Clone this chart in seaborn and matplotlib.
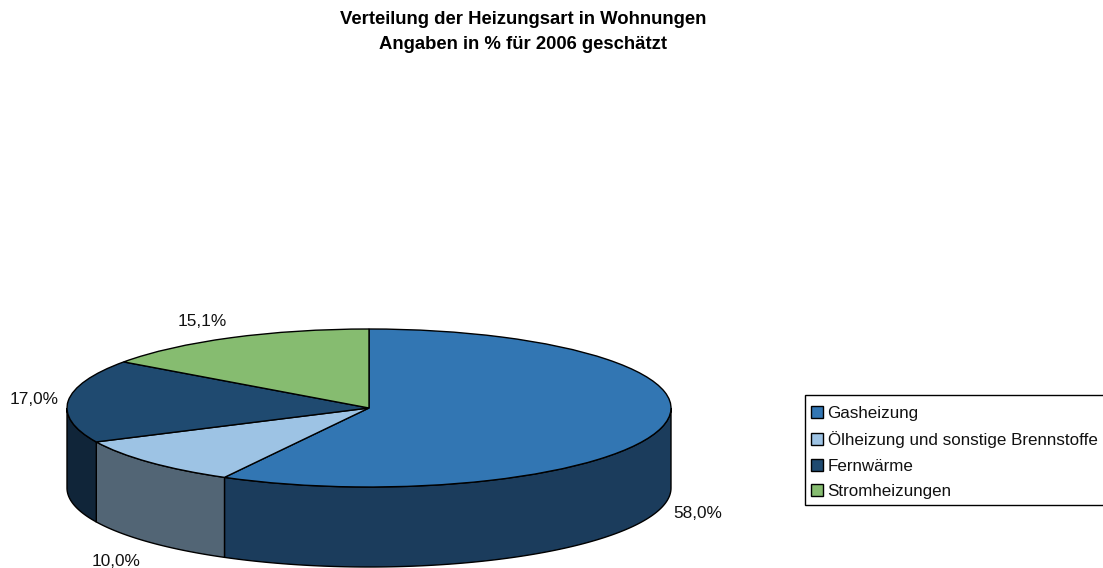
import seaborn as sns
import matplotlib.pyplot as plt
from matplotlib.patches import Rectangle
import numpy as np

heizung = ["Gasheizung", "Ölheizung und sonstige Brennstoffe", "Fernwärme", "Stromheizungen"]
anteil = [58.0, 10.0, 17.0, 15.1]
anteil_text = ["58,0%", "10,0%", "17,0%", "15,1%"]

farben = ["#3276B3", "#9DC3E4", "#1F4A70", "#86BC70"]
farben_seite = ["#1B3C5C", "#526575", "#102539", "#4A6A3E"]

sns.set_theme(style="white")
plt.rcParams["font.family"] = ["Liberation Sans", "DejaVu Sans"]

W, H = 1103, 568
cx, cy, rx, ry, tiefe = 369, 408, 302, 79, 80

fig = plt.figure(figsize=(W / 100, H / 100), dpi=100)
ax = fig.add_axes([0, 0, 1, 1])

wedges, _ = ax.pie(anteil, colors=farben, startangle=90, counterclock=False,
                   wedgeprops=dict(edgecolor="black", linewidth=1.0, zorder=3))

# pie flach druecken, damit es wie die 3D-Scheibe aussieht
ax.set_aspect("auto")
ax.set_xlim(-cx / rx, (W - cx) / rx)
ax.set_ylim((cy - H) / ry, cy / ry)

# Seitenwand, nur untere Haelfte sichtbar
d = tiefe / ry
kanten = np.cumsum([0] + anteil) / sum(anteil) * 2 * np.pi
for i in range(len(anteil)):
    a = max(kanten[i], np.pi / 2)
    b = min(kanten[i + 1], 3 * np.pi / 2)
    if a >= b:
        continue
    t = np.linspace(a, b, 120)
    x = np.sin(t)
    y = np.cos(t)
    xs = np.r_[x, x[::-1]]
    ys = np.r_[y, y[::-1] - d]
    ax.fill(xs, ys, facecolor=farben_seite[i], edgecolor="black", linewidth=1.0, zorder=2)

# Wertebeschriftung aussen
label_pos = [(673, 513), (92, 561), (10, 400), (178, 322)]
for txt, (px, py) in zip(anteil_text, label_pos):
    ax.text(px / W, 1 - py / H, txt, transform=ax.transAxes, fontsize=12.4,
            color="#111111", ha="left", va="center")

fig.text(523 / W, 1 - 24 / H, "Verteilung der Heizungsart in Wohnungen", fontsize=13.3,
         fontweight="bold", color="black", ha="center", va="baseline")
fig.text(523 / W, 1 - 49 / H, "Angaben in % für 2006 geschätzt", fontsize=13.3,
         fontweight="bold", color="black", ha="center", va="baseline")

# Rahmen der Legende laeuft bis an den Bildrand
ax.add_patch(Rectangle((805 / W, 1 - 505 / H), 300 / W, 110 / H, transform=fig.transFigure,
                       facecolor="white", edgecolor="black", linewidth=1, zorder=4, clip_on=False))

ax.legend(wedges, heizung, loc="upper left", bbox_to_anchor=(811 / W, 1 - 405.5 / H),
          bbox_transform=fig.transFigure, fontsize=12.25, frameon=False,
          handlelength=0.72, handleheight=0.72, handletextpad=0.25, labelspacing=0.62,
          borderpad=0, borderaxespad=0, labelcolor="#111111")

fig.savefig("out.png", dpi=100)
